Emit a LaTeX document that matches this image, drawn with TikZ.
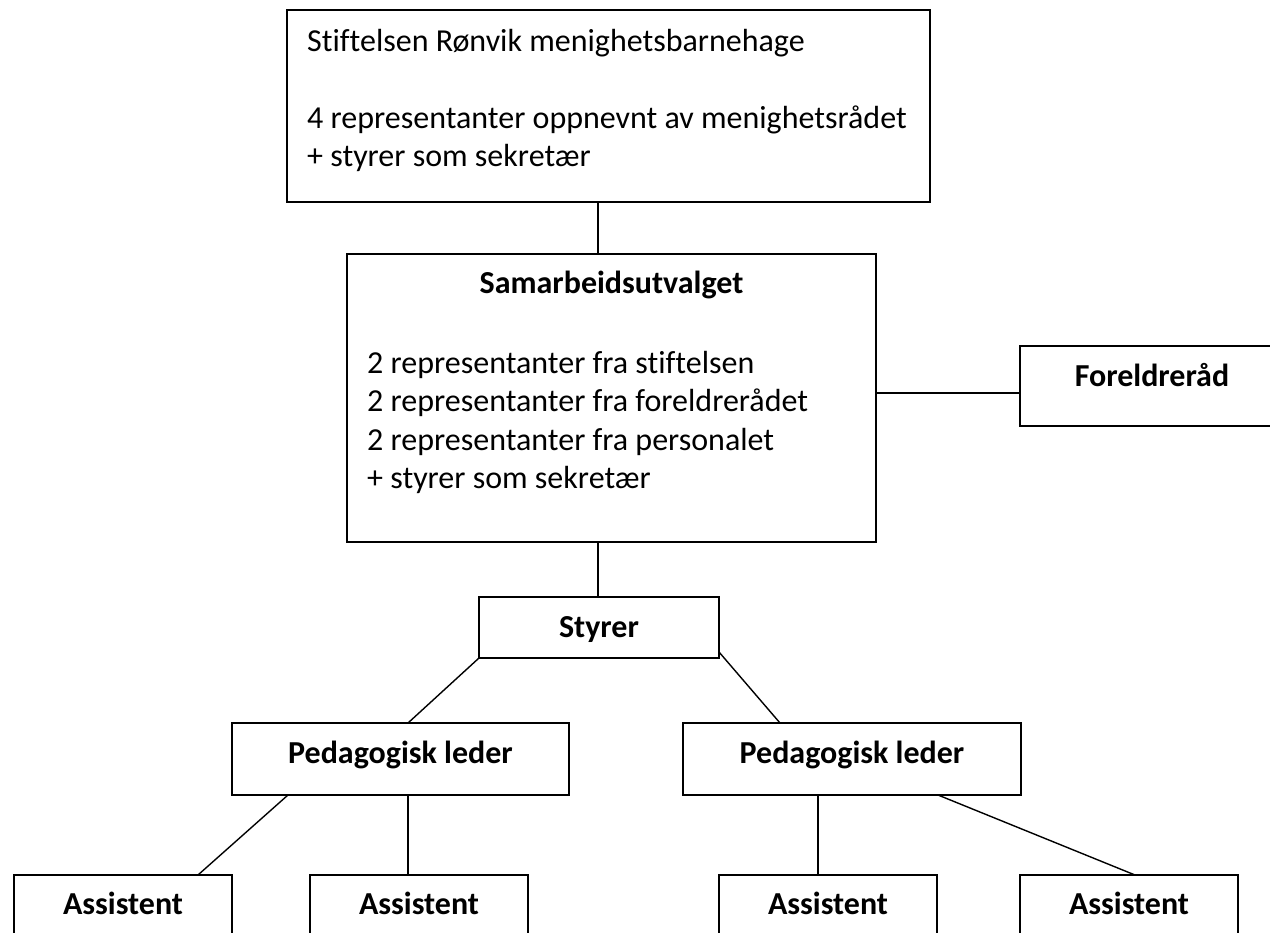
\documentclass[tikz,border=0pt]{standalone}
\usepackage{fontspec}
\setmainfont{Carlito}[Ligatures=NoCommon]
\newcommand\bodysize{\fontsize{32}{38}\selectfont}
\begin{document}
\begin{tikzpicture}[x=1pt,y=-1pt,
  box/.style={draw, line width=1.5pt, inner sep=0pt, outer sep=0pt, rectangle},
  txt/.style={inner sep=0pt, anchor=base west, font=\bodysize},
  ctxt/.style={inner sep=0pt, anchor=base, font=\bodysize\bfseries},
  link/.style={line width=1.4pt}]
\clip (0,0) rectangle (1270,933);
\fill[white] (0,0) rectangle (1270,933);
% boxes
\node[box, minimum width=643pt, minimum height=192pt] (top) at (608.5,106) {};
\node[box, minimum width=529pt, minimum height=288pt] (sam) at (611.5,398) {};
\node[box, minimum width=270pt, minimum height=80pt] (fr) at (1155,386) {};
\node[box, minimum width=240pt, minimum height=61pt] (sty) at (599,627.5) {};
\node[box, minimum width=337pt, minimum height=72pt] (pl) at (400.5,759) {};
\node[box, minimum width=338pt, minimum height=72pt] (pr) at (852,759) {};
\node[box, minimum width=218pt, minimum height=125pt] (a1) at (123,937.5) {};
\node[box, minimum width=218pt, minimum height=125pt] (a2) at (419,937.5) {};
\node[box, minimum width=218pt, minimum height=125pt] (a3) at (828,937.5) {};
\node[box, minimum width=218pt, minimum height=125pt] (a4) at (1129,937.5) {};
% texts
\node[txt] (t1) at (307,52) {Stiftelsen Rønvik menighetsbarnehage};
\node[txt] (t2) at (307,129) {4 representanter oppnevnt av menighetsrådet};
\node[txt] (t3) at (307,167) {+ styrer som sekretær};
\node[ctxt] (s0) at (611.5,294) {Samarbeidsutvalget};
\node[txt] (s1) at (367,374) {2 representanter fra stiftelsen};
\node[txt] (s2) at (367,412) {2 representanter fra foreldrerådet};
\node[txt] (s3) at (367,450) {2 representanter fra personalet};
\node[txt] (s4) at (367,488) {+ styrer som sekretær};
\node[ctxt] (frt) at (1152,387) {Foreldreråd};
\node[ctxt] (styt) at (599,637) {Styrer};
\node[ctxt] (plt) at (400.5,763) {Pedagogisk leder};
\node[ctxt] (prt) at (852,763) {Pedagogisk leder};
\node[ctxt] (a1t) at (123,914) {Assistent};
\node[ctxt] (a2t) at (419,914) {Assistent};
\node[ctxt] (a3t) at (828,914) {Assistent};
\node[ctxt] (a4t) at (1129,914) {Assistent};
% connectors
\draw[link] ([xshift=-10.5pt]top.south) -- ([xshift=-13.5pt]sam.north);
\draw[link] ([xshift=-13.5pt]sam.south) -- ([xshift=-1pt]sty.north);
\draw[link] ([yshift=5pt]sam.east) -- ([yshift=-7pt]fr.west);
\draw[link] (sty.south west) -- ([xshift=7.5pt]pl.north);
\draw[link] ([yshift=6pt]sty.south east) -- ([xshift=-72pt]pr.north);
\draw[link] ([xshift=-112.5pt]pl.south) -- ([xshift=75pt]a1.north);
\draw[link] ([xshift=7.5pt]pl.south) -- ([xshift=-11pt]a2.north);
\draw[link] ([xshift=-34pt]pr.south) -- ([xshift=-10pt]a3.north);
\draw[link] ([xshift=86pt]pr.south) -- ([xshift=6pt]a4.north);
\end{tikzpicture}
\end{document}
